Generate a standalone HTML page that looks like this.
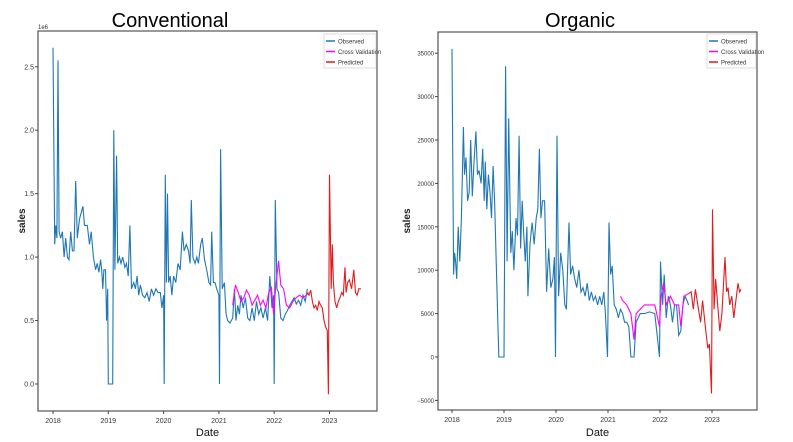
<!DOCTYPE html>
<html><head><meta charset="utf-8"><style>
body{margin:0;background:#fff;width:793px;height:442px;overflow:hidden;font-family:"Liberation Sans",sans-serif}
svg{position:absolute;left:0;top:0}
</style></head><body>
<svg id="chart" width="793" height="442" xmlns="http://www.w3.org/2000/svg"></svg>
<script>
// ---- Conventional data (sales in millions, dates in decimal years) ----
const convObsT=[2018.0,2018.03,2018.05,2018.07,2018.09,2018.11,2018.14,2018.17,2018.2,2018.23,2018.26,2018.29,2018.32,2018.35,2018.38,2018.41,2018.44,2018.48,2018.51,2018.54,2018.57,2018.62,2018.66,2018.69,2018.73,2018.77,2018.8,2018.83,2018.86,2018.88,2018.9,2018.92,2018.95,2018.97,2018.99,2019.0,2019.06,2019.08,2019.1,2019.12,2019.15,2019.17,2019.2,2019.23,2019.26,2019.3,2019.33,2019.36,2019.39,2019.42,2019.46,2019.49,2019.52,2019.55,2019.58,2019.62,2019.66,2019.7,2019.74,2019.78,2019.82,2019.86,2019.9,2019.94,2019.97,2020.0,2020.01,2020.03,2020.05,2020.07,2020.09,2020.12,2020.15,2020.18,2020.22,2020.26,2020.3,2020.34,2020.37,2020.41,2020.45,2020.48,2020.5,2020.53,2020.57,2020.6,2020.63,2020.67,2020.7,2020.74,2020.78,2020.82,2020.85,2020.87,2020.9,2020.93,2020.96,2021.0,2021.01,2021.03,2021.06,2021.1,2021.13,2021.16,2021.2,2021.25,2021.28,2021.31,2021.34,2021.37,2021.4,2021.44,2021.48,2021.52,2021.56,2021.6,2021.64,2021.68,2021.72,2021.76,2021.8,2021.84,2021.88,2021.92,2021.96,2021.99,2022.0,2022.02,2022.05,2022.08,2022.12,2022.16,2022.2,2022.24,2022.28,2022.32,2022.36,2022.4,2022.44,2022.48,2022.52,2022.56,2022.6];
const convObsV=[2.65,1.1,1.25,1.15,2.55,1.2,1.15,1.2,1.0,1.15,1.0,0.98,1.2,1.05,1.05,1.6,1.15,1.3,1.35,1.4,1.25,1.25,1.1,1.2,1.0,0.9,0.95,0.88,0.98,0.9,0.75,0.9,0.9,0.5,0.75,0.0,0.0,0.0,2.0,0.9,1.8,0.95,1.0,0.95,1.0,0.92,0.95,0.85,1.25,0.75,0.8,0.75,0.85,0.7,0.78,0.7,0.68,0.72,0.65,0.75,0.7,0.75,0.72,0.72,0.6,0.7,0.0,1.65,0.8,1.5,0.8,0.85,0.7,0.85,0.8,0.95,0.9,1.2,1.05,1.1,1.05,0.95,1.45,1.0,0.95,1.0,0.95,1.1,1.15,0.98,0.9,0.8,0.78,1.2,0.8,0.8,0.75,0.7,0.0,1.85,0.75,0.8,0.55,0.5,0.48,0.52,0.75,0.5,0.62,0.55,0.7,0.6,0.68,0.52,0.5,0.6,0.5,0.65,0.55,0.6,0.52,0.6,0.5,0.85,0.6,0.7,0.0,1.45,0.75,0.72,0.52,0.5,0.55,0.58,0.62,0.65,0.68,0.63,0.66,0.62,0.7,0.65,0.75];
const convCvT=[2021.25,2021.3,2021.35,2021.4,2021.45,2021.5,2021.55,2021.6,2021.65,2021.7,2021.75,2021.8,2021.85,2021.9,2021.95,2021.99,2022.03,2022.08,2022.12,2022.17,2022.22,2022.28,2022.34,2022.4,2022.46,2022.52,2022.58,2022.62];
const convCvV=[0.62,0.78,0.72,0.65,0.68,0.74,0.7,0.62,0.66,0.7,0.62,0.66,0.6,0.72,0.76,0.55,0.78,0.97,0.78,0.75,0.62,0.6,0.65,0.68,0.7,0.68,0.7,0.72];
const convPredT=[2022.6,2022.63,2022.66,2022.69,2022.72,2022.75,2022.78,2022.81,2022.84,2022.87,2022.9,2022.93,2022.96,2022.98,2023.0,2023.03,2023.05,2023.07,2023.1,2023.13,2023.16,2023.19,2023.22,2023.25,2023.28,2023.3,2023.33,2023.36,2023.4,2023.44,2023.47,2023.5,2023.53,2023.57];
const convPredV=[0.72,0.7,0.74,0.65,0.6,0.62,0.58,0.65,0.62,0.6,0.5,0.45,0.42,-0.08,1.65,0.75,1.1,0.8,0.65,0.6,0.65,0.68,0.72,0.7,0.92,0.72,0.8,0.82,0.75,0.9,0.72,0.7,0.75,0.75];
// ---- Organic data (sales in thousands) ----
const orgObsT=[2018.0,2018.03,2018.05,2018.07,2018.09,2018.12,2018.15,2018.18,2018.22,2018.24,2018.27,2018.3,2018.33,2018.36,2018.39,2018.42,2018.46,2018.49,2018.52,2018.56,2018.59,2018.62,2018.64,2018.67,2018.7,2018.73,2018.76,2018.79,2018.82,2018.85,2018.9,2018.95,2019.0,2019.03,2019.06,2019.09,2019.13,2019.16,2019.19,2019.23,2019.26,2019.29,2019.32,2019.35,2019.38,2019.41,2019.44,2019.46,2019.5,2019.54,2019.58,2019.62,2019.65,2019.68,2019.71,2019.74,2019.78,2019.82,2019.86,2019.9,2019.94,2019.97,2019.99,2020.02,2020.05,2020.09,2020.13,2020.17,2020.2,2020.25,2020.28,2020.32,2020.36,2020.4,2020.44,2020.48,2020.52,2020.56,2020.6,2020.64,2020.68,2020.72,2020.76,2020.8,2020.84,2020.88,2020.92,2020.95,2020.99,2021.02,2021.05,2021.08,2021.12,2021.16,2021.2,2021.24,2021.28,2021.32,2021.36,2021.4,2021.44,2021.5,2021.54,2021.58,2021.62,2021.7,2021.8,2021.9,2021.99,2022.01,2022.05,2022.08,2022.12,2022.16,2022.2,2022.24,2022.28,2022.32,2022.36,2022.4,2022.44,2022.48,2022.52,2022.55];
const orgObsV=[35.5,9.5,12,11,9,15,11,16,26.5,21,23,18,19,25,18.5,22,26,21,21.5,20,24,18,22.5,17,21,19,16,22,18,11,0,0,0,33.5,11,27.5,12,14.5,10,16,14,25.5,12.5,18,14,11,15,7,13,15.5,13,16,17,24,16,18,18,7.5,12.5,8,9,11.5,0,25.5,7,12,10,6,5.5,15.5,9.5,10.5,9,8,10,7.5,8,7,8.5,6.5,7.5,6.5,7,6,7,6,7.5,5,0,15.5,9.5,10.5,6,5.5,4.5,5.5,5,4,4,3.5,0,0,4,4.5,5,5,5.2,5,0,11,6,9.5,4.5,7,6,4,6,6,2.5,3,6,7,6.5,6];
const orgCvT=[2021.24,2021.28,2021.36,2021.44,2021.5,2021.54,2021.62,2021.7,2021.8,2021.9,2021.99,2022.02,2022.07,2022.12,2022.2,2022.28,2022.36,2022.4,2022.46,2022.55];
const orgCvV=[7,6.5,6,5,2,5,5.5,6,6,6,3.5,7,8.5,6,7,6,6,3.5,7,7.3];
const orgPredT=[2022.55,2022.6,2022.64,2022.68,2022.74,2022.78,2022.82,2022.88,2022.92,2022.95,2022.99,2023.01,2023.04,2023.07,2023.11,2023.15,2023.19,2023.25,2023.28,2023.31,2023.34,2023.38,2023.42,2023.46,2023.5,2023.53,2023.56];
const orgPredV=[7.3,7.5,5.5,7.8,5.5,4,6.5,3,1,1.5,-4.2,17,5.5,9,6,3,5,11.5,7.5,8,6,7,4.5,6.5,8.5,7.5,7.8];
const convTicks=["0.0","0.5","1.0","1.5","2.0","2.5"];const convTickVals=[0,0.5,1,1.5,2,2.5];
const orgTickVals=[-5,0,5,10,15,20,25,30,35];const orgTicks=["−5000","0","5000","10000","15000","20000","25000","30000","35000"];
const years=[2018,2019,2020,2021,2022,2023];

const NS="http://www.w3.org/2000/svg";const svg=document.getElementById('chart');
function mk(tag,attrs,parent){const e=document.createElementNS(NS,tag);for(const k in attrs)e.setAttribute(k,attrs[k]);(parent||svg).appendChild(e);return e;}
function panel(cfg){
  const g=mk('g',{});
  
  
  const xs=t=>cfg.x0+(t-2018)*cfg.px;const ys=v=>cfg.y0-v*cfg.py;
  const box=mk('rect',{x:cfg.bx,y:cfg.by,width:cfg.bw,height:cfg.bh,fill:'none',stroke:'#555','stroke-width':1.2},g);
  
  const tt=mk('text',{x:cfg.tx,y:27,'text-anchor':'middle','font-size':20,fill:'#000'},g);tt.textContent=cfg.title;
  
  years.forEach(y=>{const x=xs(y);mk('line',{x1:x,x2:x,y1:cfg.by+cfg.bh,y2:cfg.by+cfg.bh+3,stroke:'#444'},g);
    const t=mk('text',{x:x,y:cfg.by+cfg.bh+12,'text-anchor':'middle','font-size':7,fill:'#333'},g);t.textContent=y;
    });
  cfg.tv.forEach((v,i)=>{const y=ys(v);mk('line',{x1:cfg.bx-3,x2:cfg.bx,y1:y,y2:y,stroke:'#444'},g);
    const t=mk('text',{x:cfg.bx-4,y:y+2.5,'text-anchor':'end','font-size':cfg.tfs,fill:'#333'},g);t.textContent=cfg.tl[i];
    });
  if(cfg.exp){const t=mk('text',{x:cfg.bx,y:cfg.by-2,'font-size':6,fill:'#333'},g);t.textContent='1e6';
    }
  const xl=mk('text',{x:cfg.bx+cfg.bw/2,y:436,'text-anchor':'middle','font-size':11,fill:'#111'},g);xl.textContent='Date';
  
  const yl=mk('text',{x:cfg.ylx,y:cfg.by+cfg.bh/2,'text-anchor':'middle','font-size':10,'font-weight':'bold',fill:'#222',transform:`rotate(-90 ${cfg.ylx} ${cfg.by+cfg.bh/2})`},g);yl.textContent='sales';
  
  const series=[[cfg.oT,cfg.oV,'#1f77b4','observed-line'],[cfg.cT,cfg.cV,'#ff00ff','cross-validation-line'],[cfg.pT,cfg.pV,'#e41a1c','predicted-line']];
  series.forEach(s=>{const d=s[0].map((t,i)=>(i?'L':'M')+xs(t).toFixed(1)+','+ys(s[1][i]).toFixed(1)).join('');
    const p=mk('path',{d:d,fill:'none',stroke:s[2],'stroke-width':1.1},g);
    });
  const lg=mk('g',{},g);
  mk('rect',{x:cfg.lx,y:34,width:cfg.lw,height:34,fill:'#fff',stroke:'#ddd'},lg);
  [['Observed','#1f77b4'],['Cross Validation','#ff00ff'],['Predicted','#e41a1c']].forEach((e,i)=>{
    const y=41+i*10.5;mk('line',{x1:cfg.lx+2,x2:cfg.lx+11,y1:y,y2:y,stroke:e[1],'stroke-width':1.5},lg);
    const t=mk('text',{x:cfg.lx+14,y:y+2.3,'font-size':6,fill:'#333'},lg);t.textContent=e[0];
    });
}
panel({name:'conventional',title:'Conventional',tx:170,bx:38,by:31,bw:339,bh:380,x0:53,px:55.3,y0:384,py:126.9,
  tv:convTickVals,tl:convTicks,tfs:7,exp:true,ylx:25,oT:convObsT,oV:convObsV,cT:convCvT,cV:convCvV,pT:convPredT,pV:convPredV,lx:324,lw:52});
panel({name:'organic',title:'Organic',tx:580,bx:438,by:32,bw:319,bh:378,x0:452,px:52,y0:357,py:8.68,
  tv:orgTickVals,tl:orgTicks,tfs:6,exp:false,ylx:410,oT:orgObsT,oV:orgObsV,cT:orgCvT,cV:orgCvV,pT:orgPredT,pV:orgPredV,lx:707,lw:49});
</script>
</body></html>
